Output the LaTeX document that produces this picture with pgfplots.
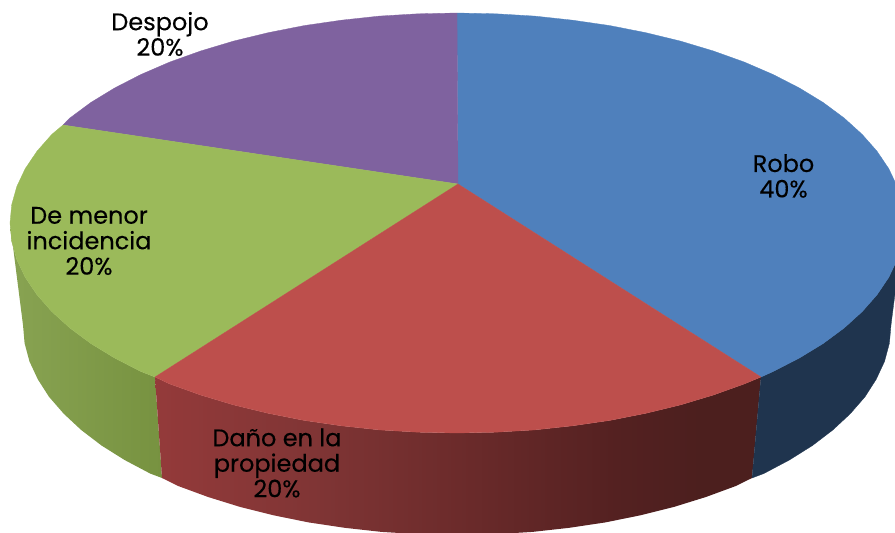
\documentclass[border=0pt]{standalone}
\usepackage{pgfplots}
\pgfplotsset{compat=1.18}
\usepackage{fontspec}
\setmainfont[FakeBold=0.25,AutoFakeBold=false]{Poppins}
\definecolor{cBlue}{HTML}{4F80BC}
\definecolor{cRed}{HTML}{BD4F4C}
\definecolor{cGreen}{HTML}{9BBA5A}
\definecolor{cPurple}{HTML}{7F629F}
\definecolor{cBlueS}{HTML}{1F344E}
\definecolor{rA}{RGB}{148,58,58}
\definecolor{rB}{RGB}{128,53,53}
\definecolor{rC}{RGB}{108,43,43}
\definecolor{rD}{RGB}{84,33,33}
\definecolor{rE}{RGB}{76,31,30}
\definecolor{gA}{RGB}{136,163,82}
\definecolor{gB}{RGB}{119,146,64}
\pgfdeclarehorizontalshading{redside}{100bp}{
  color(0bp)=(rA);
  color(25bp)=(rA);
  color(38bp)=(rB);
  color(50bp)=(rC);
  color(63bp)=(rD);
  color(70bp)=(rE);
  color(100bp)=(rE)}
\pgfdeclarehorizontalshading{greenside}{100bp}{
  color(0bp)=(gA);
  color(25bp)=(gA);
  color(75bp)=(gB);
  color(100bp)=(gB)}
\begin{document}
\begin{tikzpicture}
\useasboundingbox (0,0) rectangle (895pt,533pt);
\begin{axis}[
  at={(0,0)}, anchor=south west,
  scale only axis, width=895pt, height=533pt,
  xmin=0, xmax=895, ymin=0, ymax=533, y dir=reverse,
  hide axis, no markers, clip=true,
  every axis plot/.append style={line join=round}]
% sides
\addplot[draw=none, shading=greenside, shade] coordinates {(10,223)(11.7,241.3)(16.8,259.5)(25.2,277.3)(37,294.8)(51.9,311.7)(69.9,328)(90.8,343.5)(114.6,358)(140.9,371.5)(155,377)(162,478)(150.1,473.5)(124.6,460)(101.5,445.5)(81.2,430)(63.7,413.7)(49,396.8)(37.8,379.3)(29.5,361.5)(24.6,343.3)(23,325)} -- cycle;
\addplot[draw=none, shading=redside, shade] coordinates {(761,377)(744.4,383.9)(713.4,395)(680.5,404.9)(645.9,413.3)(609.9,420.4)(572.7,425.8)(534.8,429.9)(496,432.2)(457,433)(418,432.2)(379.2,429.9)(341.3,425.8)(304.1,420.4)(268.1,413.3)(233.5,404.9)(200.6,395)(169.6,383.9)(155,377)(162,478)(177.9,485.9)(208.1,497)(240,506.9)(273.6,515.3)(308.6,522.4)(344.7,527.8)(381.5,531.9)(419.2,534.2)(457,535)(494.8,534.2)(532.5,531.9)(569.3,527.8)(605.4,522.4)(640.4,515.3)(674,506.9)(705.9,497)(736.1,485.9)(752,478)} -- cycle;
\addplot[fill=cBlueS, draw=cBlueS, line width=.3pt] coordinates {(904,223)(902.3,241.3)(897.2,259.5)(888.8,277.3)(877,294.8)(862.1,311.7)(844.1,328)(823.2,343.5)(799.4,358)(773.1,371.5)(761,377)(752,478)(763.9,473.5)(789.4,460)(812.5,445.5)(832.8,430)(850.3,413.7)(865,396.8)(876.2,379.3)(884.5,361.5)(889.4,343.3)(891,325)} -- cycle;
% top
\addplot[fill=cBlue, draw=cBlue, line width=.3pt] coordinates {(458,184)(457,13)(496,13.8)(534.8,16.1)(572.7,20.2)(609.9,25.6)(645.9,32.7)(680.5,41.1)(713.4,51)(744.4,62.1)(773.1,74.5)(799.4,88)(823.2,102.5)(844.1,118)(862.1,134.3)(877,151.2)(888.8,168.7)(897.2,186.5)(902.3,204.7)(904,223)(902.3,241.3)(897.2,259.5)(888.8,277.3)(877,294.8)(862.1,311.7)(844.1,328)(823.2,343.5)(799.4,358)(773.1,371.5)(761,377)} -- cycle;
\addplot[fill=cPurple, draw=cPurple, line width=.3pt] coordinates {(458,184)(63,125)(69.9,118)(90.8,102.5)(114.6,88)(140.9,74.5)(169.6,62.1)(200.6,51)(233.5,41.1)(268.1,32.7)(304.1,25.6)(341.3,20.2)(379.2,16.1)(418,13.8)(457,13)} -- cycle;
\addplot[fill=cGreen, draw=cGreen, line width=.3pt] coordinates {(458,184)(155,377)(140.9,371.5)(114.6,358)(90.8,343.5)(69.9,328)(51.9,311.7)(37,294.8)(25.2,277.3)(16.8,259.5)(11.7,241.3)(10,223)(11.7,204.7)(16.8,186.5)(25.2,168.7)(37,151.2)(51.9,134.3)(63,125)} -- cycle;
\addplot[fill=cRed, draw=cRed, line width=.3pt] coordinates {(458,184)(761,377)(744.4,383.9)(713.4,395)(680.5,404.9)(645.9,413.3)(609.9,420.4)(572.7,425.8)(534.8,429.9)(496,432.2)(457,433)(418,432.2)(379.2,429.9)(341.3,425.8)(304.1,420.4)(268.1,413.3)(233.5,404.9)(200.6,395)(169.6,383.9)(155,377)} -- cycle;
% labels
\tikzset{lab/.style={align=center, text=black, inner sep=0pt, font=\fontsize{24}{25.5}\selectfont}}
\node[lab] at (axis cs:783.5,176) {Robo\\40\%};
\node[lab] at (axis cs:160,34) {Despojo\\20\%};
\node[lab] at (axis cs:89,241) {De menor\\incidencia\\20\%};
\node[lab] at (axis cs:277,463) {Daño en la\\propiedad\\20\%};
\end{axis}
\end{tikzpicture}
\end{document}
